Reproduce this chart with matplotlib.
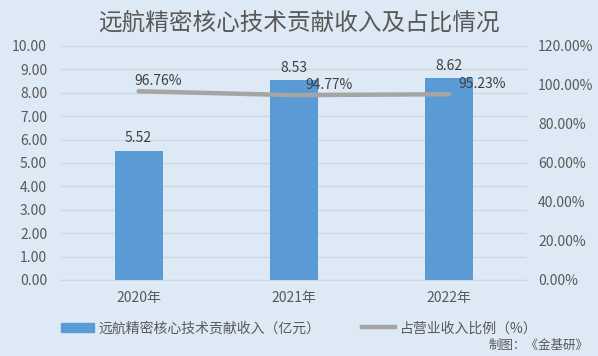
import matplotlib
matplotlib.use("Agg")
import matplotlib.pyplot as plt
from matplotlib.lines import Line2D
from matplotlib.patches import Patch

plt.rcParams['font.family'] = ['Noto Sans CJK SC', 'DejaVu Sans']

years = ['2020年', '2021年', '2022年']
income = [5.52, 8.53, 8.62]          # 亿元
ratio = [96.76, 94.77, 95.23]        # %

bg = '#dde9f5'
txt = '#595959'

fig = plt.figure(figsize=(5.98, 3.56), dpi=100, facecolor=bg)
ax = fig.add_axes([0.102, 0.2135, 0.779, 0.6575], facecolor=bg)
ax2 = ax.twinx()

x = range(len(years))
ax.bar(x, income, width=0.31, color='#5b9bd5', zorder=2)
for i, v in enumerate(income):
    ax.annotate(f'{v:.2f}', (i, v), xytext=(0, 4), textcoords='offset points',
                ha='center', va='bottom', fontsize=10, color='#404040')

ax2.plot(x, [r / 100 for r in ratio], color='#a5a5a5', lw=3.2,
         solid_capstyle='round', zorder=3)
lab_dx = [14, 25, 24]
for i, r in enumerate(ratio):
    ax2.annotate(f'{r:.2f}%', (i, r / 100), xytext=(lab_dx[i], 2), textcoords='offset points',
                 ha='center', va='bottom', fontsize=10, color='#404040')

ax.set_xlim(-0.5, 2.5)
ax.set_ylim(0, 10)
ax.set_yticks([i for i in range(11)])
ax.set_yticklabels([f'{i:.2f}' for i in range(11)])
ax2.set_ylim(0, 1.2)
ax2.set_yticks([i * 0.2 for i in range(7)])
ax2.set_yticklabels([f'{i * 20:.2f}%' for i in range(7)])
ax.set_xticks(list(x))
ax.set_xticklabels(years)

ax.grid(axis='y', color='#d0d7df', lw=1, zorder=0)
ax.set_axisbelow(True)
for a in (ax, ax2):
    for s in a.spines.values():
        s.set_visible(False)
    a.tick_params(length=0, labelsize=10, labelcolor=txt)
ax.spines['bottom'].set_visible(True)
ax.spines['bottom'].set_color('#d0d7df')
ax.tick_params(axis='y', pad=10)
ax2.tick_params(axis='y', pad=8)
ax.tick_params(axis='x', pad=8)

fig.text(0.5, 0.935, '远航精密核心技术贡献收入及占比情况', ha='center', va='center',
         fontsize=17, color=txt)

handles = [Patch(color='#5b9bd5'), Line2D([0], [0], color='#a5a5a5', lw=3.2)]
fig.legend(handles, ['远航精密核心技术贡献收入（亿元）', '占营业收入比例（%）'],
           loc='center', bbox_to_anchor=(0.5, 0.078), ncol=2, frameon=False,
           fontsize=10, labelcolor=txt, handlelength=2.4, handleheight=0.7,
           columnspacing=3, handletextpad=0.3)
fig.text(0.985, 0.03, '制图：《金基研》', ha='right', va='center', fontsize=9, color=txt)

fig.savefig('out.png', dpi=100, facecolor=bg)
